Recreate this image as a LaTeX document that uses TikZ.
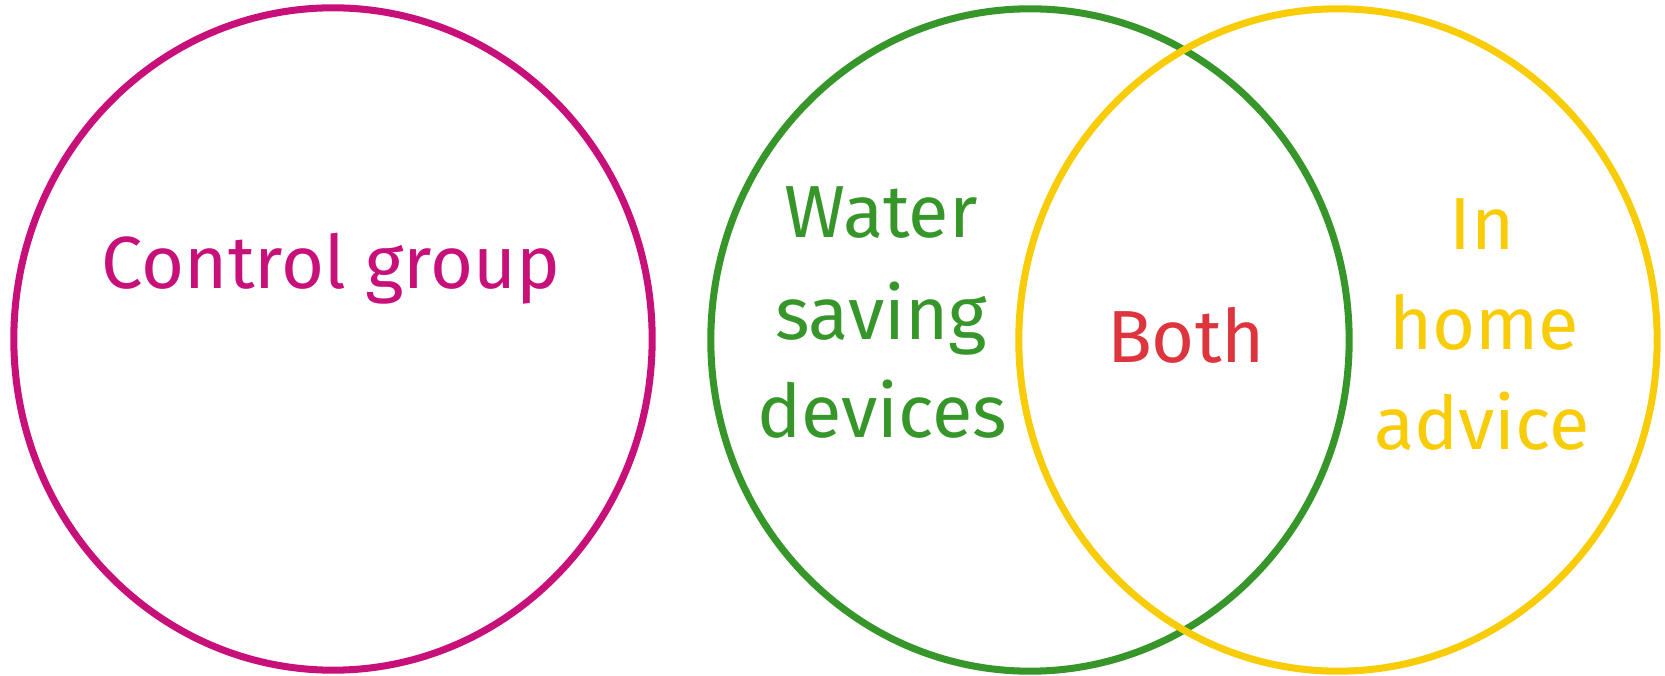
\documentclass[tikz,border=0pt]{standalone}
\usepackage{xcolor}
\usepackage{fontspec}
\setmainfont{Fira Sans}
\usepackage{tikz}
\usetikzlibrary{positioning, shapes.geometric}

\definecolor{ctrlmag}{RGB}{200,16,122}
\definecolor{devgreen}{RGB}{54,150,42}
\definecolor{advyellow}{RGB}{249,204,8}
\definecolor{bothred}{RGB}{222,52,62}

\begin{document}
\begin{tikzpicture}[
    x=0.01cm, y=-0.01cm,
    set/.style={ellipse, draw, line width=2pt, minimum width=6.38cm, minimum height=6.62cm, inner sep=0pt},
    lbl/.style={anchor=base, inner sep=0pt, font=\fontsize{21}{25}\selectfont}
]
\useasboundingbox (0,0) rectangle (1665,676);

% Sets
\node[set, draw=ctrlmag] (ctrl) at (333,339) {};
\node[set, draw=devgreen] (dev) at (1030,340) {};
\node[set, draw=advyellow] (adv) at (1338,340) {};

% Labels
\node[lbl, text=ctrlmag] (ctrltext) at (331,289) {Control group};
\node[lbl, text=devgreen] (water) at (881,238) {Water};
\node[lbl, text=devgreen] (saving) at (881,340) {saving};
\node[lbl, text=devgreen] (devices) at (882,438) {devices};
\node[lbl, text=bothred] (both) at (1186,363) {Both};
\node[lbl, text=advyellow] (in) at (1482,250) {In};
\node[lbl, text=advyellow] (home) at (1484,350) {home};
\node[lbl, text=advyellow] (advice) at (1482,450) {advice};
\end{tikzpicture}
\end{document}
